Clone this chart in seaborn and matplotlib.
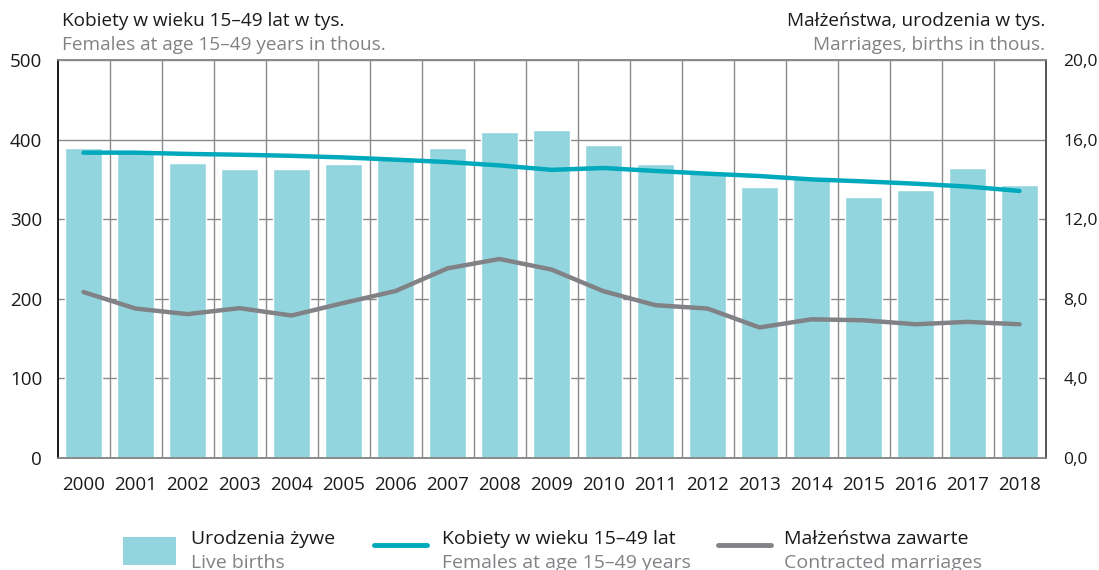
import numpy as np
import pandas as pd
import matplotlib
matplotlib.use("Agg")
import matplotlib.pyplot as plt
import seaborn as sns
from matplotlib.patches import Rectangle
from matplotlib.lines import Line2D

years = ["2000", "2001", "2002", "2003", "2004", "2005", "2006", "2007", "2008", "2009",
         "2010", "2011", "2012", "2013", "2014", "2015", "2016", "2017", "2018"]
births = [15.6, 15.45, 14.8, 14.5, 14.5, 14.75, 15.1, 15.6, 16.36, 16.5,
          15.75, 14.75, 14.35, 13.6, 14.0, 13.1, 13.45, 14.55, 13.7]
women = [383.6, 383.6, 382.0, 381.0, 379.6, 377.6, 374.8, 371.8, 367.6, 362.0,
         364.3, 360.6, 357.2, 354.2, 350.0, 347.5, 344.6, 341.0, 335.5]
marriages = [8.34, 7.51, 7.23, 7.53, 7.16, 7.79, 8.39, 9.53, 10.0, 9.47,
             8.38, 7.68, 7.51, 6.56, 6.97, 6.92, 6.72, 6.84, 6.72]
left_ticks = [0, 100, 200, 300, 400, 500]
right_ticks = [0, 4, 8, 12, 16, 20]
right_labels = ["0,0", "4,0", "8,0", "12,0", "16,0", "20,0"]

BAR = "#93d5de"
TEAL = "#00a9bc"
GRAY = "#808285"
GRID = "#8a8a8a"
TXT = "#1a1a1a"

sns.set_style("white")
plt.rcParams['font.family'] = ['Open Sans', 'DejaVu Sans']
FS = 13.5
FR = 12.5
FT = 13.7
FL = 14

df = pd.DataFrame({"year": years, "births": births, "women": women, "marriages": marriages})
df["pos"] = np.arange(len(years))

fig = plt.figure(figsize=(10.99, 5.70), dpi=100)
ax = fig.add_axes([57.5 / 1099, 1 - 458 / 570, (1045.5 - 57.5) / 1099, (458 - 60) / 570])

sns.barplot(data=df, x="year", y="births", color=BAR, width=0.73, ax=ax,
            saturation=1, zorder=2)
sns.lineplot(x=df["pos"], y=df["marriages"], color=GRAY, lw=3.2, ax=ax, zorder=3)
ax.set_ylim(0, 20)
ax.set_xlim(-0.5, len(years) - 0.5)
ax.set_axisbelow(True)
ax.set_xticks(np.arange(len(years)))
ax.set_xticklabels(years)
ax.set_xticks(np.arange(len(years) - 1) + 0.5, minor=True)
ax.grid(True, axis="y", which="major", color=GRID, lw=1)
ax.grid(True, axis="x", which="minor", color=GRID, lw=1)
ax.grid(False, axis="x", which="major")
ax.set_xlabel("")
ax.set_ylabel("")

axL = ax.twinx()
sns.lineplot(x=df["pos"], y=df["women"], color=TEAL, lw=3.2, ax=axL, zorder=4)
axL.set_ylim(0, 500)
axL.set_ylabel("")
axL.grid(False)

# births & marriages scale on the right; women scale on the left
ax.yaxis.tick_right()
ax.set_yticks(right_ticks)
ax.set_yticklabels(right_labels)
axL.yaxis.tick_left()
axL.set_yticks(left_ticks)
axL.set_yticklabels([str(t) for t in left_ticks])

ax.tick_params(axis="both", which="both", length=0, colors=TXT)
ax.tick_params(axis="x", labelsize=FS, pad=13)
ax.tick_params(axis="y", labelsize=FR, pad=13)
axL.tick_params(axis="y", length=0, labelsize=FS, pad=11, colors=TXT)

for a in (ax, axL):
    a.spines["left"].set_color(TXT)
    a.spines["right"].set_color("#555555")
    a.spines["bottom"].set_color(GRID)
    a.spines["top"].set_color(GRID)
    for s in a.spines.values():
        s.set_linewidth(1.2)

def fx(px):
    return px / 1099

def fy(py):
    return 1 - py / 570

fig.text(fx(62), fy(21), "Kobiety w wieku 15–49 lat w tys.", fontsize=FT, color=TXT, va="center")
fig.text(fx(62), fy(45), "Females at age 15–49 years in thous.", fontsize=FT, color=GRAY, va="center")
fig.text(fx(1045), fy(21), "Małżeństwa, urodzenia w tys.", fontsize=FT, color=TXT, va="center", ha="right")
fig.text(fx(1045), fy(45), "Marriages, births in thous.", fontsize=FT, color=GRAY, va="center", ha="right")

# legend
fig.add_artist(Rectangle((fx(123), fy(565)), fx(176) - fx(123), fy(537) - fy(565),
                         transform=fig.transFigure, color=BAR, lw=0))
fig.add_artist(Line2D([fx(374), fx(427)], [fy(545), fy(545)], transform=fig.transFigure,
                      color=TEAL, lw=3.5))
fig.add_artist(Line2D([fx(718), fx(771)], [fy(545), fy(545)], transform=fig.transFigure,
                      color=GRAY, lw=3.5))
leg = [(191, "Urodzenia żywe", "Live births"),
       (442, "Kobiety w wieku 15–49 lat", "Females at age 15–49 years"),
       (784, "Małżeństwa zawarte", "Contracted marriages")]
for x, pl, en in leg:
    fig.text(fx(x), fy(539), pl, fontsize=FL, color=TXT, va="center")
    fig.text(fx(x), fy(563), en, fontsize=FL, color=GRAY, va="center")

fig.savefig("out.png", dpi=100)
